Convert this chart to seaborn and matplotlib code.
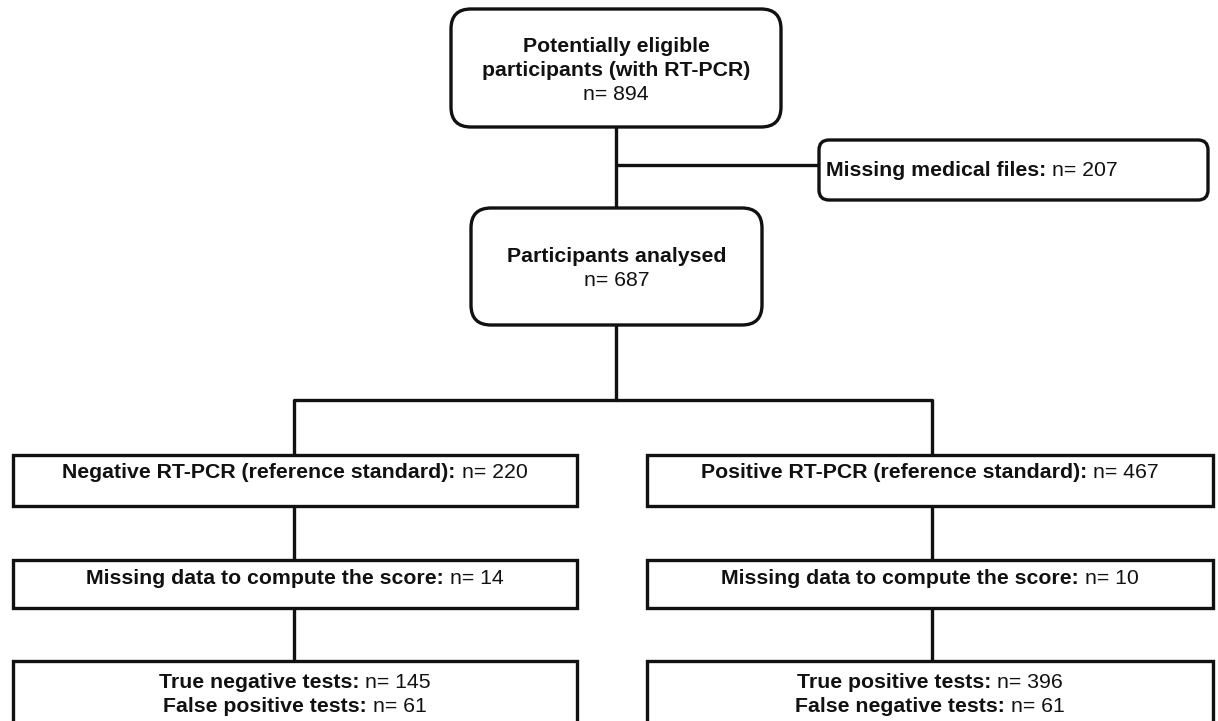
import matplotlib
matplotlib.use("Agg")
import matplotlib.pyplot as plt
from matplotlib.patches import FancyBboxPatch
import seaborn as sns
import pandas as pd

sns.set_theme(style="white")
plt.rcParams['font.family'] = ['Liberation Sans', 'DejaVu Sans']

# ---- data ----
box_ids = ["eligible", "missing_files", "analysed", "neg", "pos",
           "neg_missing", "pos_missing", "neg_result", "pos_result"]
box_lines = {
    "eligible": [("Potentially eligible", ""), ("participants (with RT-PCR)", ""), ("", "n= 894")],
    "missing_files": [("Missing medical files: ", "n= 207")],
    "analysed": [("Participants analysed", ""), ("", "n= 687")],
    "neg": [("Negative RT-PCR (reference standard): ", "n= 220")],
    "pos": [("Positive RT-PCR (reference standard): ", "n= 467")],
    "neg_missing": [("Missing data to compute the score: ", "n= 14")],
    "pos_missing": [("Missing data to compute the score: ", "n= 10")],
    "neg_result": [("True negative tests: ", "n= 145"), ("False positive tests: ", "n= 61")],
    "pos_result": [("True positive tests: ", "n= 396"), ("False negative tests: ", "n= 61")],
}

# ---- layout (pixel coordinates, y downward) ----
# x0, y0, x1, y1, rounding radius, text anchor y (first line), line spacing, align
layout = {
    "eligible": (451, 9, 781, 127, 20, 46, 24.5, "center"),
    "missing_files": (819, 140, 1208, 200, 10, 171, 24, "left"),
    "analysed": (471, 208, 762, 325, 20, 257, 23.5, "center"),
    "neg": (13, 455, 577, 506, 0, 472, 24, "center"),
    "pos": (647, 455, 1213, 506, 0, 472, 24, "center"),
    "neg_missing": (13, 560, 577, 608, 0, 578, 24, "center"),
    "pos_missing": (647, 560, 1213, 608, 0, 578, 24, "center"),
    "neg_result": (13, 661, 577, 760, 0, 683, 24, "center"),
    "pos_result": (647, 661, 1213, 760, 0, 683, 24, "center"),
}

connectors = pd.DataFrame({
    "seg": [0, 0, 1, 1, 2, 2, 3, 3, 3, 3, 4, 4, 5, 5, 6, 6, 7, 7],
    "x": [616, 616, 616, 819, 616, 616, 294, 294, 932, 932, 294, 294, 932, 932, 294, 294, 932, 932],
    "y": [127, 208, 165, 165, 325, 400, 455, 400, 400, 455, 506, 560, 506, 560, 608, 661, 608, 661],
})

W, H = 1218, 721
fig = plt.figure(figsize=(W / 100, H / 100), dpi=100)
ax = fig.add_axes([0, 0, 1, 1])

LW = 2.4
sns.lineplot(data=connectors, x="x", y="y", units="seg", estimator=None, sort=False,
             color="#111111", linewidth=LW, ax=ax, legend=False)
ax.set_xlim(0, W)
ax.set_ylim(H, 0)
ax.axis("off")

FS = 15.3
renderer = fig.canvas.get_renderer()

def text_width(s, weight):
    if not s:
        return 0.0
    t = ax.text(0, 0, s, fontsize=FS, fontweight=weight)
    bb = t.get_window_extent(renderer=renderer)
    t.remove()
    return bb.width  # pixels == data units here

for bid in box_ids:
    x0, y0, x1, y1, r, ty, dy, align = layout[bid]
    style = f"round,pad=0,rounding_size={r}" if r > 0 else "square,pad=0"
    patch = FancyBboxPatch((x0, y0), x1 - x0, y1 - y0, boxstyle=style,
                           facecolor="white", edgecolor="#111111", linewidth=LW, zorder=3)
    ax.add_patch(patch)
    for i, (b, n) in enumerate(box_lines[bid]):
        y = ty + i * dy
        wb = text_width(b, "bold")
        wn = text_width(n, "normal")
        total = wb + wn
        if align == "center":
            start = (x0 + x1) / 2 - total / 2
        else:
            start = x0 + 7
        if b:
            ax.text(start, y, b, fontsize=FS, fontweight="bold", ha="left", va="center",
                    color="#111111", zorder=4)
        if n:
            ax.text(start + wb, y, n, fontsize=FS, fontweight="normal", ha="left", va="center",
                    color="#111111", zorder=4)

fig.savefig("out.png", dpi=100)
